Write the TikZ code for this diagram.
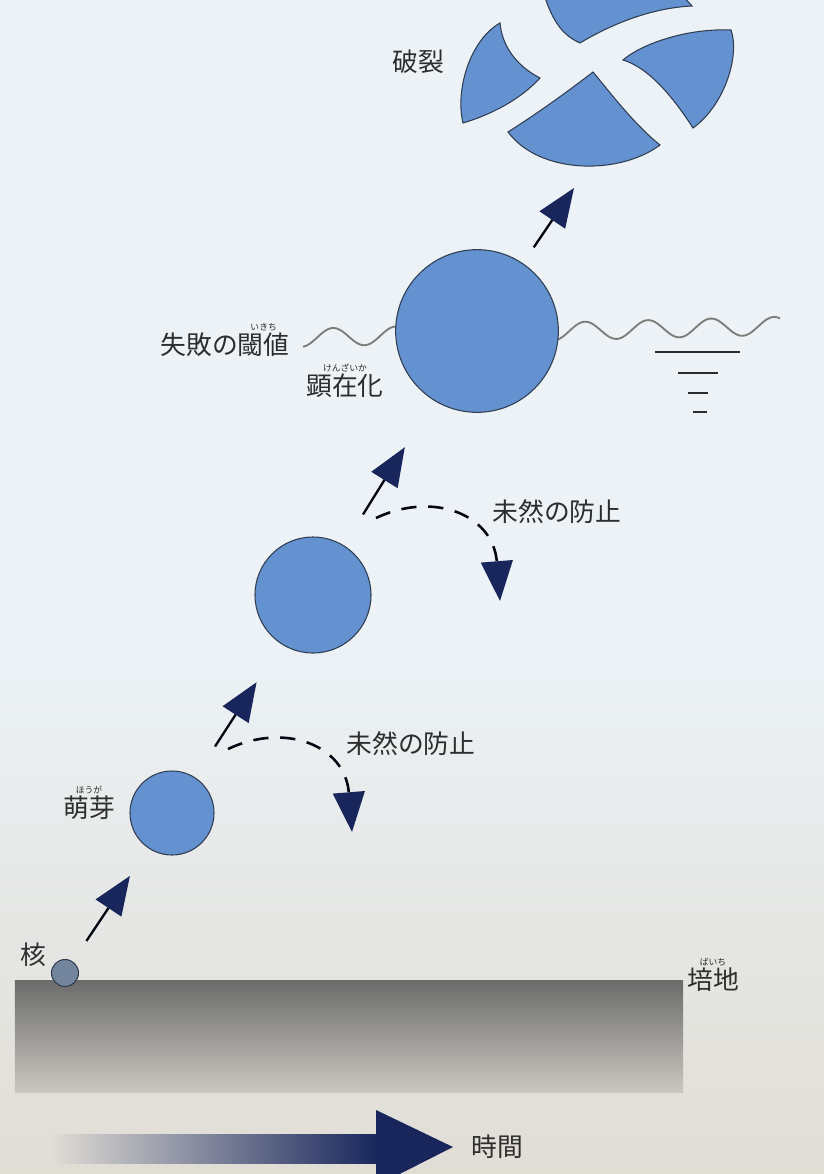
\documentclass[tikz,border=0pt]{standalone}
\usepackage{fontspec}
\setmainfont{Noto Sans CJK JP}
\usetikzlibrary{arrows.meta, positioning, calc}
\definecolor{cellblue}{RGB}{100,146,208}
\definecolor{cellline}{RGB}{48,60,80}
\definecolor{navy}{RGB}{24,38,92}
\definecolor{inkgrey}{RGB}{45,45,45}
\definecolor{wavegrey}{RGB}{125,125,122}
\definecolor{paper}{RGB}{236,242,246}
\definecolor{paperlow}{RGB}{224,221,213}
\tikzset{%
	cell/.style={
		circle,
		draw=cellline,
		line width=0.9pt,
		fill=cellblue,
		inner sep=0pt
	},
	shard/.style={draw=cellline, line width=0.9pt, fill=cellblue},
	lbl/.style={text=inkgrey, font=\fontsize{22}{26}\selectfont, inner sep=0pt},
	ruby/.style={text=inkgrey, font=\fontsize{7.5}{9}\selectfont, inner sep=0pt},
	growarrow/.style={draw=black!80!navy, line width=2pt, -{Triangle[length=33pt,width=26pt,color=navy]}},
	avert/.style={draw=black!80!navy, line width=2.2pt, dash pattern=on 13pt off 10pt,
		-{Triangle[length=34pt,width=27pt,color=navy]}},
	wave/.style={draw=wavegrey, line width=1.6pt},
	level/.style={draw=inkgrey, line width=2.4pt},
}
\begin{document}
\begin{tikzpicture}[x=0.03cm, y=-0.03cm]
	\useasboundingbox (0,0) rectangle (824,1174);
	% Paper
	\fill[paper] (0,0) rectangle (824,1174);
	\shade[top color=paper, bottom color=paperlow] (0,640) rectangle (824,1174);
	
	% Culture medium
	\node[rectangle, minimum width=20.04cm, minimum height=3.36cm, inner sep=0pt,
		top color=black!58, bottom color=paperlow!90!black] (medium) at (349,1036) {};
	\node[lbl] (mediumtxt) at (713,980) {培地};
	\node[ruby, above=1.5pt of mediumtxt] {ばいち};
	
	% Time arrow
	\shade[left color=paperlow, right color=navy] (52,1134) rectangle (378,1163);
	\fill[navy] (376,1110) -- (453,1147) -- (376,1186) -- cycle;
	\node[lbl] (timetxt) at (497,1147) {時間};
	
	% Threshold of failure
	\draw[wave] plot[domain=303:396, samples=60] (\x, {337-0.025*(\x-333)-9*cos((\x-333)/63*360)});
	\draw[wave] plot[domain=556:780, samples=120] (\x, {337-0.025*(\x-333)-9*cos((\x-333)/63*360)});
	\draw[level] (655,352) -- (740,352);
	\draw[level] (678,373) -- (718,373);
	\draw[level] (688,393) -- (708,393);
	\draw[level] (693,412) -- (707,412);
	
	% Cells
	\node[cell, minimum size=0.81cm, fill=cellblue!55!black!70!white] (nucleus) at (65,973) {};
	\node[cell, minimum size=2.52cm] (sprout) at (172,813) {};
	\node[cell, minimum size=3.48cm] (midcell) at (313,595) {};
	\node[cell, minimum size=4.88cm] (overt) at (477,331) {};
	
	% Growth arrows
	\draw[growarrow] ($(nucleus)!0.2!(sprout)$) -- ($(nucleus)!0.607!(sprout)$);
	\draw[growarrow] ($(sprout)!0.305!(midcell)$) -- ($(sprout)!0.6!(midcell)$);
	\draw[growarrow] ($(midcell)!0.305!(overt)$) -- ($(midcell)!0.56!(overt)$);
	\coordinate (rupture) at (574,188);
	\draw[growarrow] ($(overt)!0.585!(rupture)$) -- (rupture);
	
	% Prevention
	\coordinate (stopa) at (228,749);
	\coordinate (stopaend) at (352,832);
	\draw[avert] (stopa) .. controls (285,722) and (345,745) .. (stopaend);
	\coordinate (stopb) at (376,518);
	\coordinate (stopbend) at (500,601);
	\draw[avert] (stopb) .. controls (433,491) and (493,514) .. (stopbend);
	
	% Burst
	\draw[shard] (500,23) .. controls (470,40) and (455,90) .. (463,123)
		.. controls (490,115) and (520,100) .. (540,78)
		.. controls (515,65) and (502,45) .. cycle;
	\draw[shard] (540,-20) .. controls (550,20) and (562,35) .. (580,43)
		.. controls (610,25) and (650,8) .. (692,6)
		.. controls (682,-5) .. (670,-20) -- cycle;
	\draw[shard] (623,60) .. controls (640,45) and (685,28) .. (731,30)
		.. controls (740,55) and (725,105) .. (693,128)
		.. controls (675,100) and (650,68) .. cycle;
	\draw[shard] (593,72) .. controls (570,90) and (535,115) .. (508,132)
		.. controls (540,175) and (620,175) .. (660,145)
		.. controls (635,125) and (612,95) .. cycle;
	
	% Labels
	\node[lbl] (bursttxt) at (418,62) {破裂};
	\node[lbl] (failtxt) at (225,345) {失敗の閾値};
	\node[ruby, above=1.5pt of failtxt.north east, xshift=-0.78cm] {いきち};
	\node[lbl] (overttxt) at (345,386) {顕在化};
	\node[ruby, above=1.5pt of overttxt] {けんざいか};
	\node[lbl] (stopatxt) at (411,744) {未然の防止};
	\node[lbl] (stopbtxt) at (557,512) {未然の防止};
	\node[lbl] (sprouttxt) at (89,808) {萌芽};
	\node[ruby, above=1.5pt of sprouttxt] {ほうが};
	\node[lbl] (nucleustxt) at (33,955) {核};
\end{tikzpicture}
\end{document}
